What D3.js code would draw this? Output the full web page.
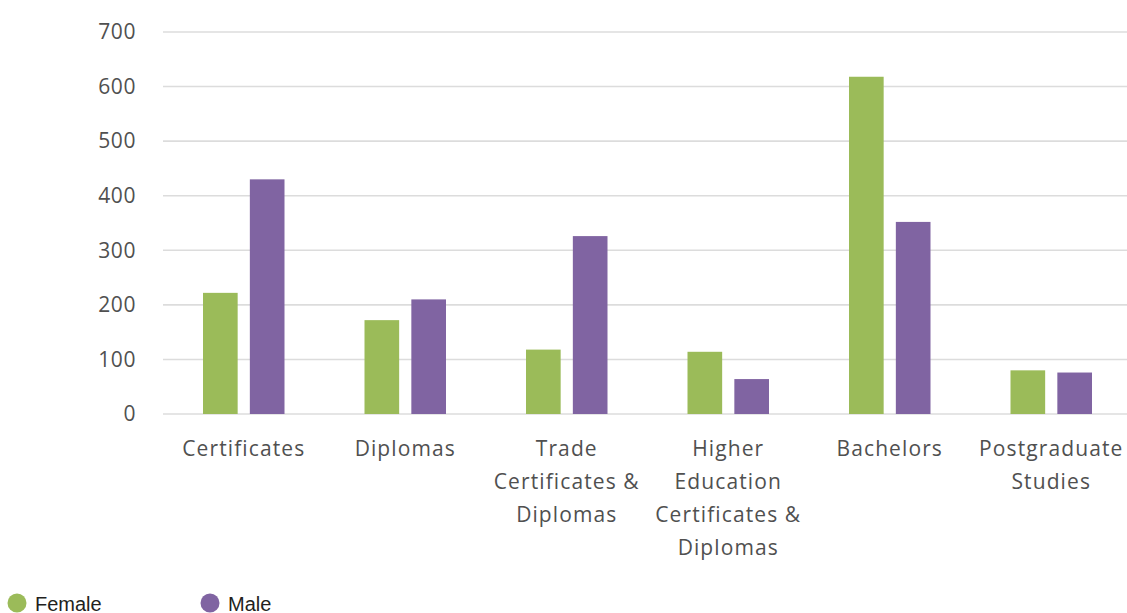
<!DOCTYPE html>
<html>
<head>
<meta charset="utf-8">
<script src="https://cdn.jsdelivr.net/npm/d3@7/dist/d3.min.js"></script>
<style>
  html, body { margin: 0; padding: 0; background: #fff; }
  svg { display: block; }
</style>
</head>
<body>
<svg id="chart" width="1127" height="613"></svg>
<script>
// Qualification categories (each entry split into its display lines)
const categories = [
  ["Certificates"],
  ["Diplomas"],
  ["Trade", "Certificates &", "Diplomas"],
  ["Higher", "Education", "Certificates &", "Diplomas"],
  ["Bachelors"],
  ["Postgraduate", "Studies"]
];
const seriesNames = ["Female", "Male"];
const femaleValues = [222, 172, 118, 114, 618, 80];
const maleValues = [430, 210, 326, 64, 352, 76];
const yTicks = [0, 100, 200, 300, 400, 500, 600, 700];
const colors = ["#9bbb59", "#8064a2"];

const svg = d3.select("#chart");
const plotLeft = 163, plotRight = 1132, plotTop = 32, plotBottom = 414;

const keys = categories.map(c => c.join(" "));
const x = d3.scaleBand().domain(keys).range([plotLeft, plotRight]).paddingInner(0).paddingOuter(0);
const xSub = d3.scaleBand().domain(seriesNames).range([40, x.bandwidth() - 40]).paddingInner(0.26);
const y = d3.scaleLinear().domain([0, 700]).range([plotBottom, plotTop]);

// Horizontal gridlines
svg.append("g")
  .selectAll("line")
  .data(yTicks)
  .join("line")
  .attr("x1", plotLeft).attr("x2", 1127)
  .attr("y1", d => y(d)).attr("y2", d => y(d))
  .attr("stroke", "#dcdcdc")
  .attr("stroke-width", 1.6);

// Y axis tick labels
const yAxis = d3.axisLeft(y).tickValues(yTicks).tickSize(0).tickPadding(0);
const yg = svg.append("g").attr("transform", "translate(136,0)").call(yAxis);
yg.select(".domain").remove();
yg.selectAll("text")
  .attr("fill", "#505050")
  .style("font-family", "'Open Sans', sans-serif")
  .style("font-size", "21px")
  .style("letter-spacing", "0.6px");

// Bars
const series = [femaleValues, maleValues];
const groups = svg.append("g")
  .selectAll("g")
  .data(keys)
  .join("g")
  .attr("transform", d => `translate(${x(d)},0)`);

groups.selectAll("rect")
  .data((d, i) => seriesNames.map((s, j) => ({ s, v: series[j][i], c: colors[j] })))
  .join("rect")
  .attr("x", d => xSub(d.s))
  .attr("width", xSub.bandwidth())
  .attr("y", d => y(d.v))
  .attr("height", d => y(0) - y(d.v))
  .attr("fill", d => d.c);

// Category labels (multi-line)
const labels = svg.append("g")
  .selectAll("text")
  .data(categories)
  .join("text")
  .attr("x", (d, i) => x(keys[i]) + x.bandwidth() / 2)
  .attr("y", 456)
  .attr("text-anchor", "middle")
  .attr("fill", "#505050")
  .style("font-family", "'Open Sans', sans-serif")
  .style("font-size", "21px")
  .style("letter-spacing", "1.1px");

labels.selectAll("tspan")
  .data(d => d)
  .join("tspan")
  .attr("x", function () { return d3.select(this.parentNode).attr("x"); })
  .attr("dy", (d, i) => i === 0 ? 0 : 33)
  .text(d => d);

// Legend
const legendX = [17, 210];
const legend = svg.append("g")
  .selectAll("g")
  .data(seriesNames)
  .join("g")
  .attr("transform", (d, i) => `translate(${legendX[i]},603)`);
legend.append("circle").attr("r", 9.5).attr("fill", (d, i) => colors[i]);
legend.append("text")
  .attr("x", 18)
  .attr("y", 7.5)
  .attr("fill", "#231f20")
  .style("font-family", "'Liberation Sans', Arial, sans-serif")
  .style("font-size", "20px")
  .text(d => d);
</script>
</body>
</html>
